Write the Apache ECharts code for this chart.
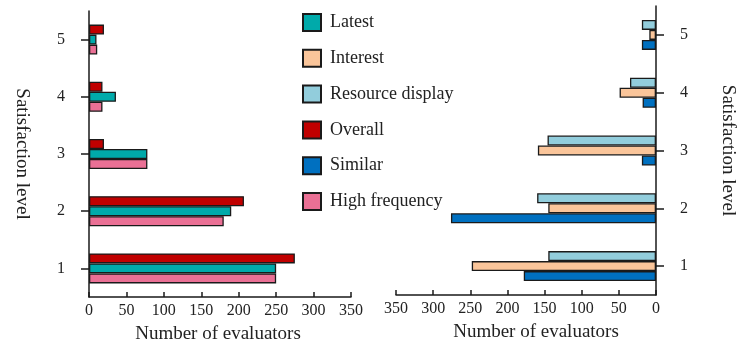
<!DOCTYPE html>
<html>
<head>
<meta charset="utf-8">
<script src="https://cdn.jsdelivr.net/npm/echarts@6/dist/echarts.min.js"></script>
<style>
    html, body { margin: 0; padding: 0; background: #fff; }
    #chart { width: 738px; height: 349px; }
</style>
</head>
<body>
<div id="chart"></div>
<script>
// satisfaction levels (category axis, bottom to top)
var levels = ['1', '2', '3', '4', '5'];
var xTicks = [0, 50, 100, 150, 200, 250, 300, 350];

// left panel
var overall = [275, 207, 20, 18, 20];
var latest = [250, 190, 78, 36, 10];
var highFrequency = [250, 180, 78, 18, 11];

// right panel
var resourceDisplay = [145, 160, 146, 35, 19];
var interest = [248, 145, 159, 49, 9];
var similar = [178, 276, 19, 18, 19];

var legendOrder = ['Latest', 'Interest', 'Resource display', 'Overall', 'Similar', 'High frequency'];

var font = 'Liberation Serif';
var edge = '#1a1a1a';

var myChart = echarts.init(document.getElementById('chart'));

function bar(name, data, color, idx) {
    return {
        name: name,
        type: 'bar',
        xAxisIndex: idx,
        yAxisIndex: idx,
        data: data,
        barWidth: 10,
        barGap: '0%',
        animation: false,
        itemStyle: { color: color, borderColor: edge, borderWidth: 1.3 }
    };
}

function valueAxis(idx, inverse) {
    return {
        type: 'value',
        gridIndex: idx,
        min: 0,
        max: 350,
        interval: 50,
        inverse: inverse,
        splitLine: { show: false },
        axisLine: { show: true, lineStyle: { color: edge, width: 1.5 } },
        axisTick: { show: true, inside: true, length: 5, lineStyle: { color: edge, width: 1.5 } },
        axisLabel: { color: '#222', fontFamily: font, fontSize: 16, margin: 6,
            formatter: function (v) { return xTicks.indexOf(v) >= 0 ? String(v) : ''; } },
        name: 'Number of evaluators',
        nameLocation: 'middle',
        nameGap: 28,
        nameTextStyle: { color: '#222', fontFamily: font, fontSize: 19,
            padding: idx === 1 ? [0, 0, 0, 20] : [0, 4, 0, 0] }
    };
}

function levelAxis(idx, pos, gap) {
    return {
        type: 'category',
        gridIndex: idx,
        data: levels,
        position: pos,
        axisLine: { show: true, lineStyle: { color: edge, width: 1.5 } },
        axisTick: { show: true, alignWithLabel: true, length: 8, lineStyle: { color: edge, width: 1.5 } },
        axisLabel: { color: '#222', fontFamily: font, fontSize: 16, margin: 24 },
        name: 'Satisfaction level',
        nameLocation: 'middle',
        nameRotate: -90,
        nameGap: gap,
        nameTextStyle: { color: '#222', fontFamily: font, fontSize: 19 }
    };
}

myChart.setOption({
    backgroundColor: '#fff',
    animation: false,
    grid: [
        { left: 89, top: 11, width: 262, height: 287 },   // 左侧
        { left: 396, top: 6, width: 262, height: 289 }    // 右侧
    ],
    legend: {
        data: legendOrder,
        orient: 'vertical',
        left: 297,
        top: 8,
        itemWidth: 18,
        itemHeight: 17,
        itemGap: 16.8,
        icon: 'rect',
        textStyle: { color: '#222', fontFamily: font, fontSize: 18, padding: [0, 0, 0, 4] }
    },
    xAxis: [valueAxis(0, false), valueAxis(1, true)],
    yAxis: [levelAxis(0, 'left', 58), levelAxis(1, 'right', 62)],
    series: [
        bar('Overall', overall, '#C00000', 0),
        bar('Latest', latest, '#00AAAA', 0),
        bar('High frequency', highFrequency, '#EA7095', 0),
        bar('Resource display', resourceDisplay, '#92CDDC', 1),
        bar('Interest', interest, '#FAC59A', 1),
        bar('Similar', similar, '#0070C0', 1)
    ]
});
</script>
</body>
</html>
